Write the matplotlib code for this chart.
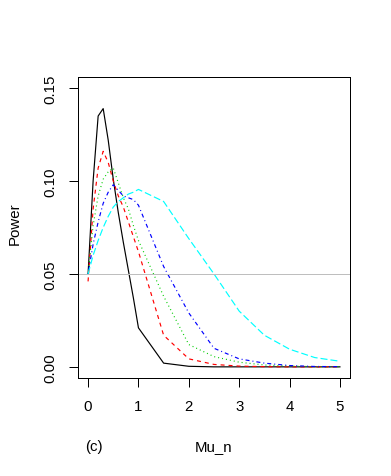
import numpy as np
import matplotlib
matplotlib.use("Agg")
import matplotlib.pyplot as plt

plt.rcParams['font.family'] = ['Liberation Sans', 'DejaVu Sans']
plt.rcParams['lines.scale_dashes'] = False

# x grid (Mu_n) and power curves
mu_n = [0, 0.1, 0.2, 0.3, 0.4, 0.5, 0.6, 0.7, 0.8, 0.9, 1.0,
        1.5, 2.0, 2.5, 3.0, 3.5, 4.0, 4.5, 5.0]
power_black = [0.050, 0.100, 0.135, 0.139, 0.122, 0.101, 0.083, 0.067, 0.052, 0.037, 0.021,
               0.002, 0.0003, 0, 0, 0, 0, 0, 0]
power_red = [0.046, 0.085, 0.107, 0.116, 0.110, 0.100, 0.092, 0.086, 0.078, 0.070, 0.062,
             0.017, 0.0043, 0.0013, 0.0004, 0.0001, 0, 0, 0]
power_green = [0.050, 0.076, 0.092, 0.101, 0.105, 0.107, 0.099, 0.091, 0.085, 0.076, 0.068,
               0.038, 0.012, 0.0055, 0.0025, 0.001, 0.0004, 0.0001, 0]
power_blue = [0.050, 0.066, 0.078, 0.088, 0.094, 0.098, 0.095, 0.092, 0.091, 0.090, 0.087,
              0.054, 0.029, 0.010, 0.0043, 0.002, 0.0007, 0.0002, 0.0001]
power_cyan = [0.050, 0.060, 0.068, 0.075, 0.081, 0.086, 0.089, 0.091, 0.093, 0.094, 0.0955,
              0.089, 0.069, 0.050, 0.030, 0.017, 0.0095, 0.005, 0.003]
alpha_level = 0.05

xticks = [0, 1, 2, 3, 4, 5]
yticks = [0.00, 0.05, 0.10, 0.15]
ytick_labels = ['0.00', '0.05', '0.10', '0.15']

px = 0.72  # points per pixel at dpi 100
fig = plt.figure(figsize=(3.91, 4.77), dpi=100)
ax = fig.add_axes([78/391, 1-379/477, 272/391, 301/477])

series = [
    (power_black, 'black', '-'),
    (power_red, '#FF0000', (0, (4*px, 4*px))),
    (power_green, '#00CD00', (0, (1*px, 3*px))),
    (power_blue, '#0000FF', (0, (1*px, 3*px, 4*px, 3*px))),
    (power_cyan, '#00FFFF', (0, (7*px, 3*px))),
]
for vals, col, ls in series:
    ax.plot(mu_n, vals, color=col, linestyle=ls, linewidth=0.85)

ax.axhline(alpha_level, color='#BEBEBE', linewidth=1*px)

ax.set_xlim(-0.2, 5.2)
ax.set_ylim(-0.006, 0.156)
ax.set_xticks(xticks)
ax.set_xticklabels([str(t) for t in xticks])
ax.set_yticks(yticks)
ax.set_yticklabels(ytick_labels, rotation=90, va='center')
ax.tick_params(direction='out', length=9*px, width=1*px, labelsize=10.8, pad=8.5)
for sp in ax.spines.values():
    sp.set_linewidth(1*px)

fig.text(15/391, 1-224/477, 'Power', rotation=90, ha='center', va='center', fontsize=10.8)
fig.text(214/391, 1-447/477, 'Mu_n', ha='center', va='center', fontsize=10.8)
fig.text(94/391, 1-447/477, '(c)', ha='center', va='center', fontsize=10.8)

fig.savefig('out.png', dpi=100)
